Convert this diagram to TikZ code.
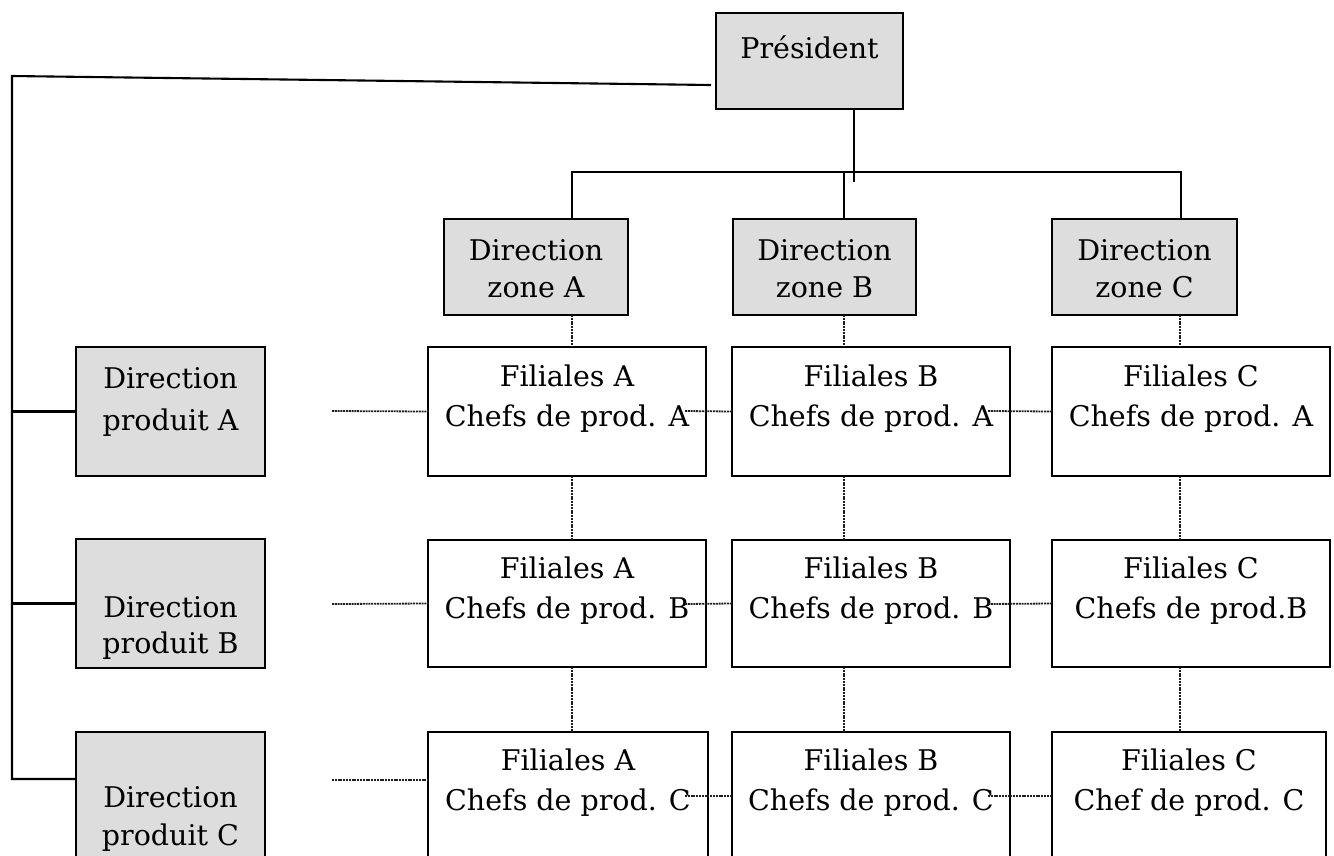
\documentclass[tikz,border=0pt]{standalone}
\usepackage{fontspec}
\setmainfont{DejaVu Serif}
\usetikzlibrary{calc}
\definecolor{boxgray}{RGB}{221,221,221}
\definecolor{dotgray}{RGB}{30,30,30}
% #1 width, #2 height, #3 first baseline offset, #4 baselineskip, #5 text
\newcommand\bx[5]{\parbox[b][#2pt][t]{#1pt}{\centering\fontsize{28.5}{#4}\selectfont\rule{0pt}{#3pt}#5}}
\tikzset{
  gbox/.style={draw, line width=2.3pt, fill=boxgray, inner sep=0pt, outer sep=0pt, anchor=north west},
  wbox/.style={draw, line width=2.3pt, fill=white, inner sep=0pt, outer sep=0pt, anchor=north west},
  link/.style={line width=2.1pt},
  dotlink/.style={line width=1.8pt, dash pattern=on 2pt off 0.8pt, dotgray},
}
\begin{document}
\begin{tikzpicture}[x=1pt, y=-1pt]
\useasboundingbox (0,0) rectangle (1334,855);
\clip (0,0) rectangle (1334,855);
% boxes
\node[gbox] (pres) at (716,13) {\bx{187}{96}{45}{40}{Président}};
\node[gbox] (zA) at (444,219) {\bx{184}{96}{41}{37}{Direction\\zone A}};
\node[gbox] (zB) at (733,219) {\bx{183}{96}{41}{37}{Direction\\zone B}};
\node[gbox] (zC) at (1052,219) {\bx{185}{96}{41}{37}{Direction\\zone C}};
\node[gbox] (pA) at (76,347) {\bx{189}{129}{41}{42}{Direction\\produit A}};
\node[gbox] (pB) at (76,539) {\bx{189}{129}{78}{36}{Direction\\produit B}};
\node[gbox] (pC) at (76,732) {\bx{189}{129}{75}{38}{Direction\\produit C}};
\node[wbox] (fA1) at (428,347) {\bx{278}{129}{39}{40}{Filiales A\\Chefs de prod. A}};
\node[wbox] (fB1) at (732,347) {\bx{278}{129}{39}{40}{Filiales B\\Chefs de prod. A}};
\node[wbox] (fC1) at (1052,347) {\bx{278}{129}{39}{40}{Filiales C\\Chefs de prod. A}};
\node[wbox] (fA2) at (428,540) {\bx{278}{127}{38}{40}{Filiales A\\Chefs de prod. B}};
\node[wbox] (fB2) at (732,540) {\bx{278}{127}{38}{40}{Filiales B\\Chefs de prod. B}};
\node[wbox] (fC2) at (1052,540) {\bx{278}{127}{38}{40}{Filiales C\\Chefs de prod.B}};
\node[wbox] (fA3) at (428,732) {\bx{280}{129}{38}{40}{Filiales A\\Chefs de prod. C}};
\node[wbox] (fB3) at (732,732) {\bx{278}{129}{38}{40}{Filiales B\\Chefs de prod. C}};
\node[wbox] (fC3) at (1052,732) {\bx{274}{129}{38}{40}{Filiales C\\Chef de prod. C}};
% helper coordinates
\coordinate (cA) at (572,0);
\coordinate (cB) at (844,0);
\coordinate (cC) at (1180,0);
\coordinate (busL) at (12,76);
\coordinate (busT) at (572,172);
% president to product directions
\draw[link] ($(pres.north west)+(-5,72)$) -- (busL) -- (busL |- 0,779) -- ($(pC.north west)+(0,47)$);
\draw[link] (busL |- pA.west) -- (pA.west);
\draw[link] (busL |- pB.west) -- (pB.west);
% president to zone directions
\draw[link] ($(pres.south west)+(138,0)$) -- ++(0,73);
\draw[link] (zA.north -| cA) -- (busT) -- (busT -| 1181,0) -- (zC.north -| 1181,0);
\draw[link] (busT -| cB) -- (zB.north -| cB);
% vertical dotted
\foreach \c/\z/\a/\b/\d in {cA/zA/fA1/fA2/fA3, cB/zB/fB1/fB2/fB3, cC/zC/fC1/fC2/fC3}{
  \draw[dotlink] (\z.south -| \c) -- (\a.north -| \c);
  \draw[dotlink] (\a.south -| \c) -- (\b.north -| \c);
  \draw[dotlink] (\b.south -| \c) -- (\d.north -| \c);
}
% horizontal dotted
\draw[dotlink] (332,411) -- (fA1.west);
\draw[dotlink] (685,411) -- (fB1.west);
\draw[dotlink] (988,411) -- (fC1.west);
\draw[dotlink] (332,604) -- (fA2.west);
\draw[dotlink] (685,604) -- (fB2.west);
\draw[dotlink] (988,604) -- (fC2.west);
\draw[dotlink] (332,780) -- (fA3.west |- 0,780);
\draw[dotlink] (685,796) -- (fB3.west |- 0,796);
\draw[dotlink] (988,796) -- (fC3.west |- 0,796);
\end{tikzpicture}
\end{document}
